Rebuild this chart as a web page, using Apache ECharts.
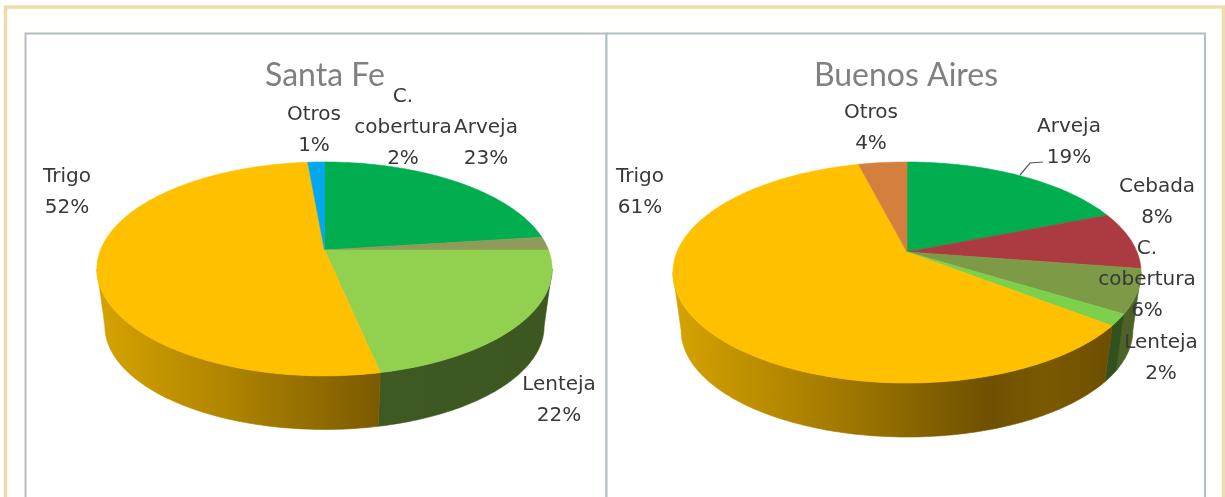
<!DOCTYPE html>
<html><head><meta charset="utf-8">
<style>html,body{margin:0;padding:0;background:#fff}#c{width:1225px;height:497px;filter:blur(0.6px)}</style>
<script src="https://cdn.jsdelivr.net/npm/echarts@6/dist/echarts.min.js"></script>
</head><body><div id="c"></div>
<script>
// ---- data ----
const santaFeNames  = ['Arveja','C.\ncobertura','Lenteja','Trigo','Otros'];
const santaFeValues = [23,2,21.7,51.9,1.4];
const buenosAiresNames  = ['Arveja','Cebada','C.\ncobertura','Lenteja','Trigo','Otros'];
const buenosAiresValues = [19,8.4,6.4,1.7,60.5,4];

// ---- styles and layout ----
const FONT = 'Lato, "Open Sans", sans-serif';
const LABEL_FONT = '"DejaVu Sans", sans-serif';
const TEXT = '#383838';
const pies = [
 { title:'Santa Fe', titleX:325, names:santaFeNames, values:santaFeValues,
   geo:{ax:324.5,ay:250,A:224,B:103.6,p:0.177,s:0.965,D:58},
   top:['#00ae50','#8f9b58','#92d050','#ffc000','#00a8f0'],
   wall:[['#00702f','#00702f'],['#55622f','#55622f'],['#3e5a22','#3c5720'],
         [[0,'#d6a300'],[0.45,'#b08500'],[1,'#7b5a00']],['#006a9a','#006a9a']],
   labels:[[486,143],[403,128],[559,400],[67,192],[314,130]] },
 { title:'Buenos Aires', titleX:906, names:buenosAiresNames, values:buenosAiresValues,
   geo:{ax:907,ay:252,A:230,B:106.7,p:0.1855,s:0.965,D:58.6},
   top:['#00ae50','#ab3b40','#7d9b47','#7cd04c','#ffc000','#d57f3e'],
   wall:[['#00702f','#00702f'],['#6e2528','#6e2528'],['#4e6228','#4e6228'],['#33501f','#33501f'],
         [[0,'#d6a300'],[0.4,'#9f7700'],[0.72,'#6e5000'],[0.85,'#7a5a00'],[1,'#6c4e00']],['#8a5226','#8a5226']],
   labels:[[1069,142],[1157,202],[1147,280],[1161,358],[640,192],[871,128]],
   leader:[[1020,175],[1030,163],[1043,162]] }
];

function rim(g,deg,bottom){
  const t=deg*Math.PI/180,u=Math.sin(t),v=Math.cos(t),w=1+g.p*v;
  const s=bottom?g.s:1,off=bottom?g.D:0;
  return [g.ax+s*g.A*u/w, g.ay+off-s*g.B*v/w];
}
function arc(g,a,b,bottom){
  const n=Math.max(2,Math.ceil(b-a)),pts=[];
  for(let i=0;i<=n;i++) pts.push(rim(g,a+(b-a)*i/n,bottom));
  return pts;
}
function cumul(vals){const tot=vals.reduce((x,y)=>x+y,0);let c=0;return vals.map(v=>{const a=c/tot*360;c+=v;return [a,c/tot*360];});}
function fillOf(w){
  const stops=Array.isArray(w[0])?w:[[0,w[0]],[1,w[1]]];
  return new echarts.graphic.LinearGradient(0,0,1,0,stops.map(s=>({offset:s[0],color:s[1]})));
}

const series=[];
pies.forEach(P=>{
  const spans=cumul(P.values),g=P.geo;
  const minT=Math.acos(-g.p)*180/Math.PI,maxT=360-minT;
  const data=P.values.map((v,i)=>({value:[v,i],name:P.names[i].replace('\n',' ')}));
  series.push({type:'custom',name:P.title+' lateral',coordinateSystem:'none',z:1,silent:true,data,
    renderItem(params){
      const i=params.dataIndex,a=Math.max(spans[i][0],minT),b=Math.min(spans[i][1],maxT);
      if(b<=a) return {type:'group',children:[]};
      const pts=arc(g,a,b,false).concat(arc(g,a,b,true).reverse());
      const f=fillOf(P.wall[i]);
      return {type:'polygon',shape:{points:pts},style:{fill:f,stroke:f,lineWidth:0.6}};
    }});
  series.push({type:'custom',name:P.title,coordinateSystem:'none',z:2,silent:true,data,
    renderItem(params){
      const i=params.dataIndex;
      const pts=[[g.ax,g.ay]].concat(arc(g,spans[i][0],spans[i][1],false));
      return {type:'polygon',shape:{points:pts},style:{fill:P.top[i],stroke:P.top[i],lineWidth:0.6}};
    }});
  series.push({type:'custom',name:P.title+' etiquetas',coordinateSystem:'none',z:3,silent:true,data,
    renderItem(params,api){
      const i=params.dataIndex,kids=[];
      kids.push({type:'text',x:P.labels[i][0],y:P.labels[i][1],style:{
        text:P.names[i]+'\n'+Math.round(api.value(0))+'%',font:'20px '+LABEL_FONT,fill:TEXT,
        align:'center',verticalAlign:'middle',lineHeight:31}});
      if(P.leader&&i===0) kids.push({type:'polyline',shape:{points:P.leader},style:{fill:null,stroke:'#555',lineWidth:1.2}});
      return {type:'group',children:kids};
    }});
});

const chart=echarts.init(document.getElementById('c'),null,{renderer:'canvas'});
chart.setOption({
  animation:false,backgroundColor:'#ffffff',
  title:pies.map(P=>({text:P.title,left:P.titleX-5,top:55,textAlign:'center',
    textStyle:{fontFamily:FONT,fontSize:32,fontWeight:'normal',color:'#808080'}})),
  graphic:{elements:[
    {type:'polyline',z:-2,shape:{points:[[5.5,500],[5.5,7],[1223.5,7],[1223.5,500]]},style:{fill:'#fffffd',stroke:'#efdcaa',lineWidth:3.5}},
    {type:'rect',z:-1,shape:{x:25.5,y:33.5,width:581,height:470},style:{fill:'#fff',stroke:'#b4bfbd',lineWidth:2}},
    {type:'rect',z:-1,shape:{x:606.5,y:33.5,width:598.5,height:470},style:{fill:'#fff',stroke:'#b4bfc4',lineWidth:2}}
  ]},
  series
});
</script></body></html>
